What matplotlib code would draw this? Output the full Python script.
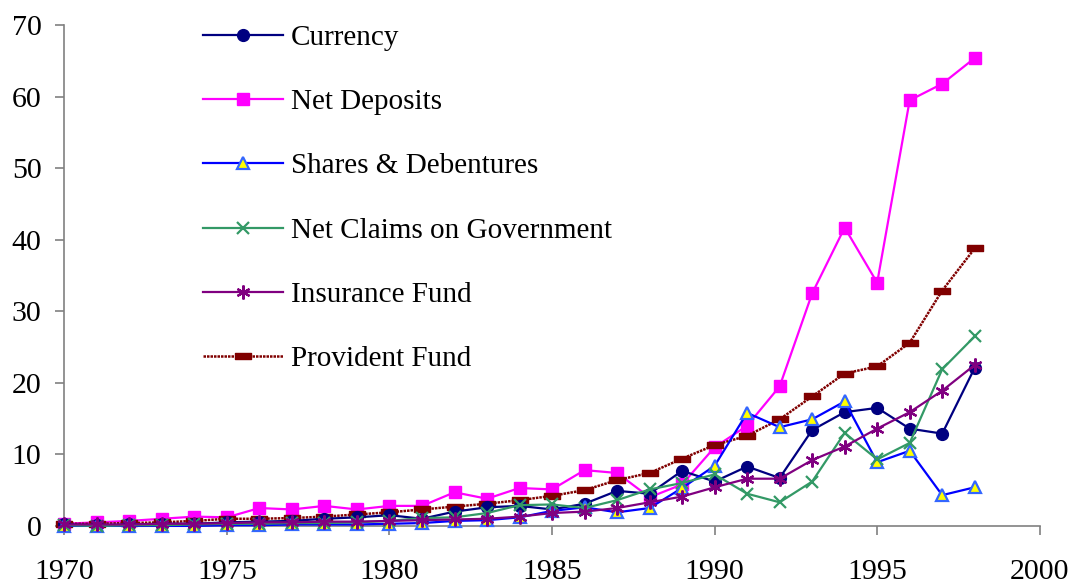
import matplotlib
matplotlib.use("Agg")
import matplotlib.pyplot as plt
from matplotlib.path import Path

plt.rcParams["font.family"] = ["Liberation Serif", "DejaVu Serif"]

years = list(range(1970, 1999))

currency = [0.2, 0.1, 0.2, 0.3, 0.3, 0.5, 0.6, 0.7, 1.0, 1.2, 1.5, 1.0, 2.0, 2.6, 2.8,
            2.3, 3.1, 4.9, 4.5, 7.7, 6.2, 8.3, 6.7, 13.4, 15.9, 16.5, 13.6, 12.9, 22.1]
net_deposits = [0.3, 0.5, 0.7, 1.0, 1.3, 1.2, 2.5, 2.3, 2.8, 2.3, 2.8, 2.8, 4.7, 3.8, 5.3,
                5.1, 7.8, 7.4, 4.0, 5.8, 11.0, 14.0, 19.5, 32.5, 41.7, 34.0, 59.5, 61.8, 65.4]
shares = [0.0, 0.0, 0.0, 0.0, 0.0, 0.1, 0.1, 0.2, 0.2, 0.2, 0.3, 0.4, 0.7, 0.8, 1.2,
          2.1, 2.6, 1.9, 2.5, 5.3, 8.4, 15.8, 13.8, 14.9, 17.4, 8.9, 10.5, 4.3, 5.4]
net_claims = [0.1, 0.0, 0.1, 0.1, 0.2, 0.3, 0.3, 0.4, 0.4, 0.5, 0.7, 1.1, 1.2, 1.8, 2.9,
              3.0, 2.5, 3.6, 5.1, 6.0, 7.2, 4.5, 3.3, 6.2, 13.0, 9.3, 11.6, 21.9, 26.5]
insurance = [0.2, 0.2, 0.2, 0.3, 0.3, 0.4, 0.5, 0.5, 0.6, 0.6, 0.7, 0.8, 0.9, 1.0, 1.3,
             1.8, 2.0, 2.5, 3.3, 4.1, 5.4, 6.6, 6.6, 9.2, 11.1, 13.6, 15.9, 18.9, 22.5]
provident = [0.3, 0.3, 0.4, 0.5, 0.7, 1.0, 1.0, 1.1, 1.3, 1.6, 1.9, 2.3, 2.7, 3.1, 3.6,
             4.2, 5.0, 6.4, 7.4, 9.4, 11.3, 12.6, 14.9, 18.1, 21.3, 22.3, 25.6, 32.9, 38.8]

labels = ["Currency", "Net Deposits", "Shares & Debentures",
          "Net Claims on Government", "Insurance Fund", "Provident Fund"]

# flat bar marker used for the provident fund series
dash_marker = Path([(-1, -0.35), (1, -0.35), (1, 0.35), (-1, 0.35), (-1, -0.35)],
                   [Path.MOVETO, Path.LINETO, Path.LINETO, Path.LINETO, Path.CLOSEPOLY])

fig = plt.figure(figsize=(10.73, 5.85), dpi=100)
ax = fig.add_axes([0.060, 0.101, 0.909, 0.856])

ax.plot(years, currency, color="#000080", lw=1.6, marker="o", ms=8.5,
        mfc="#000080", mec="#000080", label=labels[0], clip_on=False, zorder=4)
ax.plot(years, net_deposits, color="#FF00FF", lw=1.6, marker="s", ms=9,
        mfc="#FF00FF", mec="#FF00FF", label=labels[1], clip_on=False, zorder=3)
ax.plot(years, shares, color="#0000FF", lw=1.6, marker="^", ms=9,
        mfc="#FFFF00", mec="#3366FF", mew=1.6, label=labels[2], clip_on=False, zorder=5)
ax.plot(years, net_claims, color="#339966", lw=1.6, marker="x", ms=9, mew=1.6,
        label=labels[3], clip_on=False, zorder=5)
ax.plot(years, insurance, color="#800080", lw=1.6, marker=(6, 2, 0), ms=10, mew=1.6,
        label=labels[4], clip_on=False, zorder=6)
ax.plot(years, provident, color="#800000", lw=1.8, ls=(0, (1.0, 0.4)),
        marker=dash_marker, ms=11, mfc="#800000", mec="#800000",
        label=labels[5], clip_on=False, zorder=3)

ax.set_xlim(1970, 2000)
ax.set_ylim(0, 70)
ax.set_xticks(range(1970, 2001, 5))
ax.set_yticks(range(0, 71, 10))

for side in ("top", "right"):
    ax.spines[side].set_visible(False)
for side in ("left", "bottom"):
    ax.spines[side].set_color("#808080")
    ax.spines[side].set_linewidth(1.2)
ax.tick_params(direction="out", length=6.5, width=1.2, color="#808080",
               labelsize=21.5, labelcolor="black")
ax.tick_params(axis="x", pad=17)
ax.tick_params(axis="y", pad=10)

leg = ax.legend(loc="upper left", bbox_to_anchor=(0.13, 1.025), frameon=False,
                fontsize=21, handlelength=2.75, handletextpad=0.27,
                labelspacing=1.3, borderaxespad=0)

fig.savefig("out.png", dpi=100)
